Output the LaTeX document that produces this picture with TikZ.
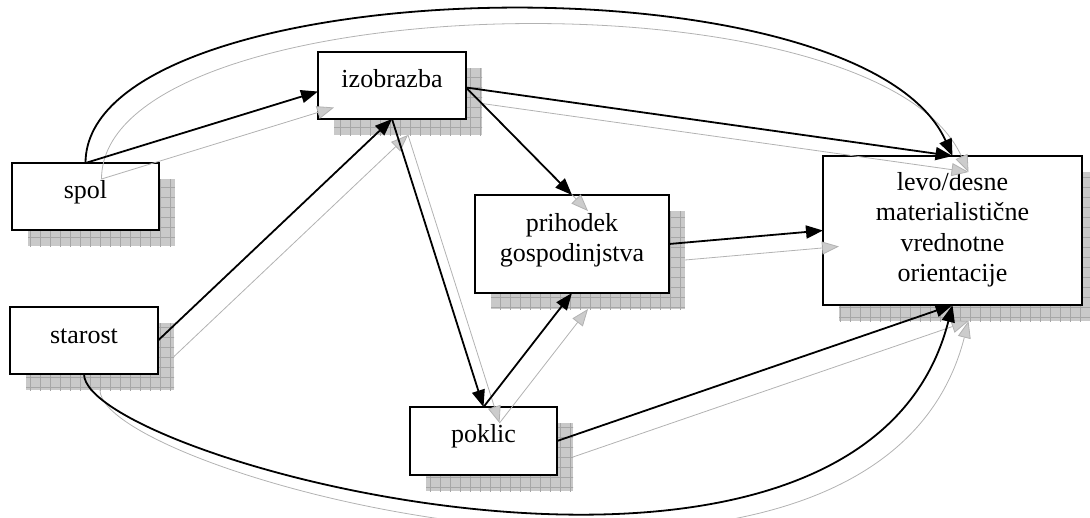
\documentclass[tikz,border=0pt]{standalone}
\usepackage{fontspec}
\setmainfont{Liberation Serif}
\usetikzlibrary{arrows.meta,patterns.meta,backgrounds}
\begin{document}
\begin{tikzpicture}[x=1pt,y=-1pt,
  box/.style={draw=black,line width=1.7pt,fill=white,inner sep=0pt,outer sep=0pt,anchor=north west},
  lbl/.style={font=\fontsize{26}{30.5}\selectfont,align=center,anchor=base,inner sep=0pt},
  blk/.style={draw=black,line width=1.8pt,-{Triangle[length=17pt,width=13pt]}},
  gry/.style={draw=gray!60,line width=0.8pt,-{Triangle[length=17pt,width=13pt,fill=gray!40]}},
  shfill/.style={fill=gray!42},
  shgrid/.style={pattern={Hatch[distance=10pt,line width=0.5pt]},pattern color=gray!70},
]
\useasboundingbox (0,0) rectangle (1090,517);

% boxes
\node[box,minimum width=147pt,minimum height=67pt] (spol) at (12,163) {};
\node[box,minimum width=148pt,minimum height=67pt] (izobrazba) at (318,52) {};
\node[box,minimum width=148pt,minimum height=67pt] (starost) at (10,307) {};
\node[box,minimum width=147pt,minimum height=68pt] (poklic) at (410,407) {};
\node[box,minimum width=194pt,minimum height=98pt] (prihodek) at (475,195) {};
\node[box,minimum width=259pt,minimum height=149pt] (levo) at (823,156) {};

% shadows
\begin{scope}[on background layer]
\foreach \n in {spol,izobrazba,starost,poklic,prihodek,levo}{
  \fill[shfill] ([shift={(16,16)}]\n.north west) rectangle ([shift={(16,16)}]\n.south east);
  \path[shgrid] ([shift={(16,16)}]\n.north west) rectangle ([shift={(16,16)}]\n.south east);
}
\end{scope}

% labels (anchor=base is the baseline of the last line)
\node[lbl] (spolT) at ([shift={(0,35)}]spol.north) {spol};
\node[lbl] (izobrazbaT) at ([shift={(0,35)}]izobrazba.north) {izobrazba};
\node[lbl] (starostT) at ([shift={(0,36)}]starost.north) {starost};
\node[lbl] (poklicT) at ([shift={(0,35)}]poklic.north) {poklic};
\node[lbl] (prihodekT) at ([shift={(0,66.5)}]prihodek.north) {prihodek\\gospodinjstva};
\node[lbl] (levoT) at ([shift={(0,125.5)}]levo.north) {levo/desne\\materialistične\\vrednotne\\orientacije};

% gray shadow connectors
\draw[gry] ([shift={(16,16)}]spol.north) -- ([shift={(16,22)}]izobrazba.west);
\draw[gry] ([shift={(16,16)}]spol.north) .. controls (102,-14) and (876,-34) .. ([shift={(16,16)}]levo.north);
\draw[gry] ([shift={(16,18)}]izobrazba.east) -- ([shift={(16,16)}]levo.north);
\draw[gry] ([shift={(16,18)}]izobrazba.east) -- ([shift={(16,16)}]prihodek.north);
\draw[gry] ([shift={(16,16)}]izobrazba.south) -- ([shift={(16,16)}]poklic.north);
\draw[gry] ([shift={(16,16)}]starost.east) -- ([shift={(16,16)}]izobrazba.south);
\draw[gry] ([shift={(16,16)}]poklic.north) -- ([shift={(16,16)}]prihodek.south);
\draw[gry] ([shift={(16,16)}]prihodek.east) -- ([shift={(16,16)}]levo.west);
\draw[gry] ([shift={(16,16)}]poklic.east) -- ([shift={(16,16)}]levo.south);
\draw[gry] ([shift={(16,16)}]starost.south) .. controls (100,476) and (876,684) .. ([shift={(16,16)}]levo.south);

% black connectors
\draw[blk] (spol.north) -- ([shift={(0,6)}]izobrazba.west);
\draw[blk] (spol.north) .. controls (86,-30) and (860,-50) .. (levo.north);
\draw[blk] ([shift={(0,2)}]izobrazba.east) -- (levo.north);
\draw[blk] ([shift={(0,2)}]izobrazba.east) -- (prihodek.north);
\draw[blk] (izobrazba.south) -- (poklic.north);
\draw[blk] (starost.east) -- (izobrazba.south);
\draw[blk] (poklic.north) -- (prihodek.south);
\draw[blk] (prihodek.east) -- (levo.west);
\draw[blk] (poklic.east) -- (levo.south);
\draw[blk] (starost.south) .. controls (84,460) and (860,668) .. (levo.south);
\end{tikzpicture}
\end{document}
